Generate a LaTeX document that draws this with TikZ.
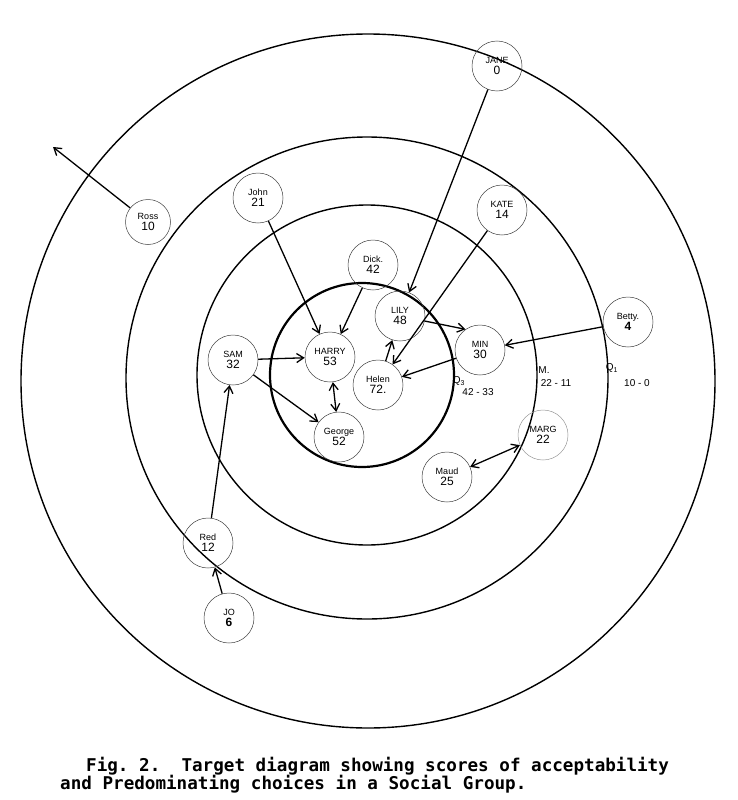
\documentclass[tikz,border=0pt]{standalone}
\usepackage{fontspec}
\setsansfont{Liberation Sans}
\setmonofont{DejaVu Sans Mono}
\usetikzlibrary{arrows.meta}

\tikzset{
  person/.style={circle, draw=black!75, line width=0.5pt, minimum size=50pt, inner sep=0pt,
    align=center, font=\sffamily\fontsize{9}{11}\selectfont},
  ring/.style={line width=1.4pt},
  choice/.style={line width=1.3pt, -{Straight Barb[length=7pt,width=9pt]}},
  mutual/.style={line width=1.3pt, {Straight Barb[length=7pt,width=9pt]}-{Straight Barb[length=7pt,width=9pt]}},
  ringlabel/.style={font=\sffamily\fontsize{10}{11}\selectfont, inner sep=1pt},
  caption/.style={anchor=base west, inner sep=0pt, font=\ttfamily\bfseries\fontsize{17.6}{18}\selectfont}
}
\newcommand{\score}[1]{{\fontsize{12}{12}\selectfont #1}}

\begin{document}
\begin{tikzpicture}[x=1pt, y=-1pt]
  \useasboundingbox (0,0) rectangle (737,800);

  % Rings
  \draw[ring] (368,381) circle (347);
  \draw[ring] (367,378) circle (241);
  \draw[ring] (367,375) circle (170);
  \draw[ring, line width=2.2pt] (362,375) circle (92);

  % Members
  \node[person] (jane) at (497,66) {JANE\\\score{0}};
  \node[person, minimum size=45pt] (ross) at (148,222) {Ross\\\score{10}};
  \node[person] (john) at (258,198) {John\\\score{21}};
  \node[person] (kate) at (502,210) {KATE\\\score{14}};
  \node[person] (dick) at (373,265) {Dick.\\\score{42}};
  \node[person] (lily) at (400,316) {LILY\\\score{48}};
  \node[person] (min) at (480,350) {MIN\\\score{30}};
  \node[person] (betty) at (628,322) {Betty.\\\score{\textbf{4}}};
  \node[person] (sam) at (233,360) {SAM\\\score{32}};
  \node[person] (harry) at (330,357) {HARRY\\\score{53}};
  \node[person] (helen) at (378,385) {Helen\\\score{72.}};
  \node[person] (george) at (339,437) {George\\\score{52}};
  \node[person, draw=black!40] (marg) at (543,435) {MARG\\\score{22}};
  \node[person] (maud) at (447,477) {Maud\\\score{25}};
  \node[person] (red) at (208,543) {Red\\\score{12}};
  \node[person] (jo) at (229,618) {JO\\\score{\textbf{6}}};
  \coordinate (rossend) at (53,147);

  % Ring marks
  \node[ringlabel] (q3) at (459,381) {Q\textsubscript{3}};
  \node[ringlabel] (q3score) at (478,392) {42 - 33};
  \node[ringlabel] (mlab) at (544,370) {M.};
  \node[ringlabel] (mscore) at (556,383) {22 - 11};
  \node[ringlabel] (q1) at (612,368) {Q\textsubscript{1}};
  \node[ringlabel] (q1score) at (637,383) {10 - 0};

  % Choices
  \draw[choice] (ross) -- (rossend);
  \draw[choice] (john) -- (harry);
  \draw[choice] (dick) -- (harry);
  \draw[choice] (jane) -- (lily);
  \draw[choice] (kate) -- (helen);
  \draw[choice] (lily) -- (min.125);
  \draw[choice] (helen) -- (lily);
  \draw[choice] (min) -- (helen);
  \draw[choice] (betty) -- (min);
  \draw[choice] (sam) -- (harry);
  \draw[choice] (sam) -- (george);
  \draw[mutual] (harry) -- (george);
  \draw[mutual] (maud) -- (marg);
  \draw[choice] (red) -- (sam);
  \draw[choice] (jo) -- (red);

  % Caption
  \node[caption] (cap1) at (86,771) {\frenchspacing Fig. 2.\ \ Target diagram showing scores of acceptability};
  \node[caption] (cap2) at (60,789) {\frenchspacing and Predominating choices in a Social Group.};
\end{tikzpicture}
\end{document}
